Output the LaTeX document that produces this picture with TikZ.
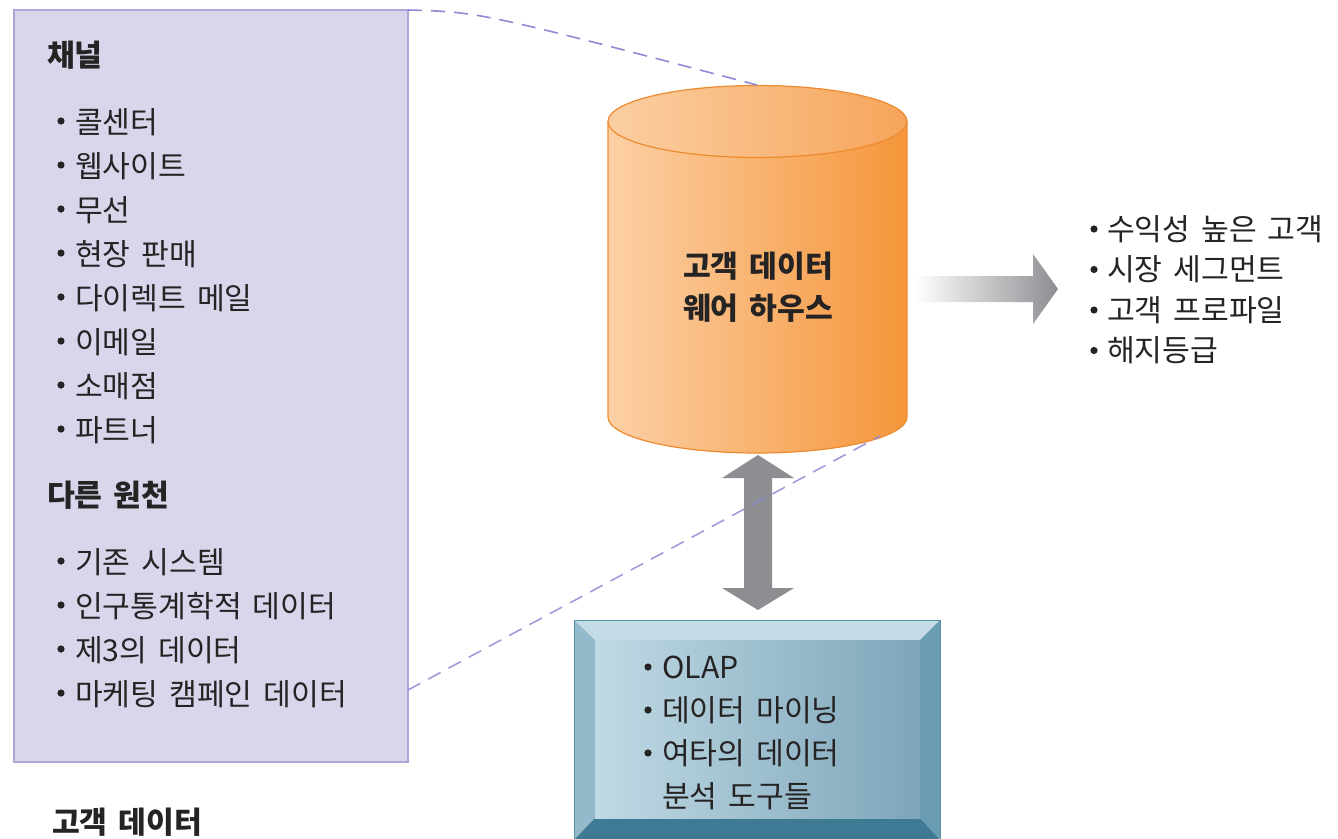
\documentclass[tikz,border=0pt]{standalone}
\usepackage{fontspec}
\setmainfont{Noto Sans CJK KR}[WordSpace=1.6]
\usepackage{tikz}
\usetikzlibrary{positioning}
\definecolor{textgray}{HTML}{262324}
\definecolor{boxlilac}{HTML}{D9D6EC}
\definecolor{boxedge}{HTML}{ABA7D9}
\definecolor{linklilac}{HTML}{8F89D6}
\definecolor{cylleft}{HTML}{FCD0A6}
\definecolor{cylright}{HTML}{F5963A}
\definecolor{topleft}{HTML}{FBCFA3}
\definecolor{topright}{HTML}{F6A55A}
\definecolor{cyledge}{HTML}{EE8A2E}
\definecolor{arrowgray}{HTML}{8D8E92}
\definecolor{bevtop}{HTML}{C4DCE6}
\definecolor{bevleft}{HTML}{93BACB}
\definecolor{bevright}{HTML}{6A9DB3}
\definecolor{bevbot}{HTML}{3F7A94}
\definecolor{tealleft}{HTML}{C0D9E4}
\definecolor{tealright}{HTML}{7DA6BA}
\definecolor{tealedge}{HTML}{5A8FA6}

\begin{document}
\begin{tikzpicture}[x=1pt, y=-1pt,
  item/.style={anchor=base west, inner sep=0pt, text=textgray, font=\fontsize{30.2}{35}\selectfont},
  head/.style={item, font=\fontsize{30.2}{35}\selectfont\bfseries},
  bul/.style={fill=textgray},
  linkline/.style={linklilac, line width=1.6pt, dash pattern=on 14pt off 9pt}]

\useasboundingbox (0,0) rectangle (1338,838);

% data sources
\node[draw=boxedge, fill=boxlilac, line width=1.5pt, inner sep=0pt, outer sep=0pt,
      minimum width=394pt, minimum height=752pt] (src) at (211,386) {};

\node[head] (chan) at (47,66) {채널};
\foreach \t [count=\i from 0] in {콜센터,웹사이트,무선,현장 판매,다이렉트 메일,이메일,소매점,파트너} {
  \fill[bul] (61,{133+44*\i-12}) circle (3.6);
  \node[item] (chan-\i) at (75,{133+44*\i}) {\t};
}

\node[head] (other) at (47,506) {다른 원천};
\foreach \t [count=\i from 0] in {기존 시스템,인구통계학적 데이터,제3의 데이터,마케팅 캠페인 데이터} {
  \fill[bul] (61,{573+44*\i-12}) circle (3.6);
  \node[item] (other-\i) at (75,{573+44*\i}) {\t};
}

\node[head] (cdata) at (52,833) {고객 데이터};

% warehouse
\shade[left color=cylleft, right color=cylright] (608,121.5) -- (608,417)
  arc[start angle=180, end angle=0, x radius=149.5, y radius=36] -- (907,121.5) -- cycle;
\draw[cyledge, line width=1.2pt] (608,121.5) -- (608,417)
  arc[start angle=180, end angle=0, x radius=149.5, y radius=36] -- (907,121.5);
\shadedraw[left color=topleft, right color=topright, draw=cyledge, line width=1.2pt]
  (757.5,121.5) ellipse[x radius=149.5, y radius=36];
\coordinate (cyltop) at (757,85);
\coordinate (cylbot) at (880,436);

\node[head, anchor=base] (wh-1) at (758,277) {고객 데이터};
\node[head, anchor=base] (wh-2) at (758,319) {웨어 하우스};

% links from source box
\draw[linkline] (src.north east) .. controls (480,12) .. (cyltop);
\coordinate (srcjoin) at (408,690);

% two way arrow
\fill[arrowgray] (758,455) -- (794,478) -- (772,478) -- (772,588) -- (794,588) -- (758,610)
  -- (722,588) -- (744,588) -- (744,478) -- (722,478) -- cycle;
\draw[linkline, opacity=0.85] (srcjoin) -- (cylbot);

% output arrow
\shade[left color=white, middle color=arrowgray!70, right color=arrowgray]
  (915,276) -- (1033,276) -- (1033,254) -- (1058,289) -- (1033,324) -- (1033,302) -- (915,302) -- cycle;

\foreach \t [count=\i from 0] in {수익성 높은 고객,시장 세그먼트,고객 프로파일,해지등급} {
  \fill[bul] (1094,{240+40.5*\i-11}) circle (3.6);
  \node[item] (out-\i) at (1107,{240+40.5*\i}) {\t};
}

% analysis tools
\fill[bevtop] (574,620) -- (940,620) -- (920,640) -- (595,640) -- cycle;
\fill[bevleft] (574,620) -- (595,640) -- (595,818) -- (574,840) -- cycle;
\fill[bevright] (940,620) -- (940,840) -- (920,818) -- (920,640) -- cycle;
\fill[bevbot] (574,840) -- (595,818) -- (920,818) -- (940,840) -- cycle;
\shade[left color=tealleft, right color=tealright] (595,640) rectangle (920,818);
\draw[tealedge, line width=1pt] (574,620) rectangle (940,840);

\foreach \t [count=\i from 0] in {OLAP,데이터 마이닝,여타의 데이터} {
  \fill[bul] (648,{678+43*\i-11}) circle (3.6);
  \node[item] (tool-\i) at (662,{678+43*\i}) {\t};
}
\node[item] (tool-3) at (662,807) {분석 도구들};

\end{tikzpicture}
\end{document}
